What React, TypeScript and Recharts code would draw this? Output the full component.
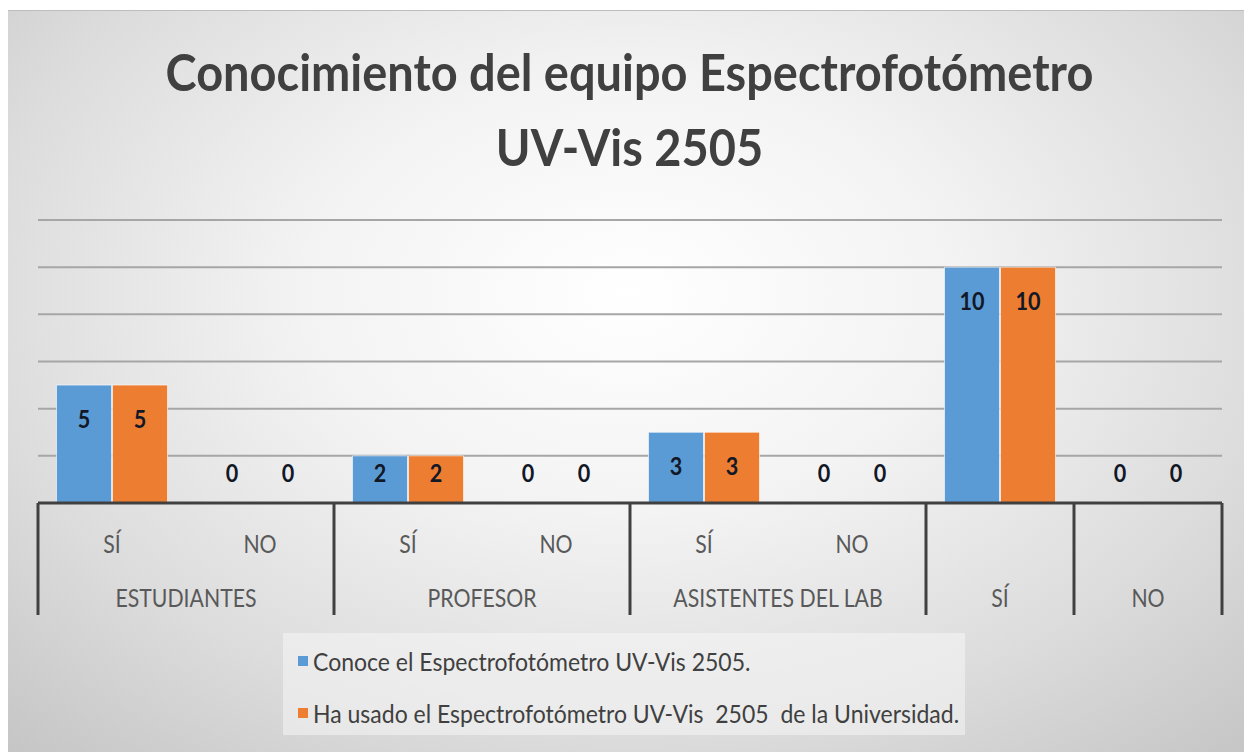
import React from "react";
import { BarChart, Bar, XAxis, YAxis, CartesianGrid, Legend, LabelList } from "recharts";

const subLabels = ["SÍ", "NO", "SÍ", "NO", "SÍ", "NO", "", ""];
const groupLabels = ["ESTUDIANTES", "ESTUDIANTES", "PROFESOR", "PROFESOR", "ASISTENTES DEL LAB", "ASISTENTES DEL LAB", "SÍ", "NO"];
const conoce = [5, 0, 2, 0, 3, 0, 10, 0];
const haUsado = [5, 0, 2, 0, 3, 0, 10, 0];
const yTicks = [0, 2, 4, 6, 8, 10, 12];
const seriesNames = [
  "Conoce el Espectrofotómetro UV-Vis 2505.",
  "Ha usado el Espectrofotómetro UV-Vis  2505  de la Universidad.",
];
const titleLines = ["Conocimiento del equipo Espectrofotómetro", "UV-Vis 2505"];

const data = subLabels.map((s, i) => ({
  key: String(i),
  sub: s,
  group: groupLabels[i],
  conoce: conoce[i],
  haUsado: haUsado[i],
}));

const W = 1245;
const H = 744;
const M = { top: 210, right: 30, left: 31, bottom: 37 };
const BAND = (W - M.left - M.right) / subLabels.length;
const FONT = "Lato, 'Open Sans', sans-serif";
const BLUE = "#5B9BD5";
const ORANGE = "#ED7D31";

function CondText(props: any) {
  const { x, y, children } = props;
  return (
    <text
      transform={`translate(${x},${y}) scale(0.85,1)`}
      textAnchor="middle"
      dominantBaseline="central"
      fill="#595959"
      fontSize={25}
      fontFamily={FONT}
    >
      {children}
    </text>
  );
}

function AxisTick(props: any) {
  const { x, y, payload } = props;
  const i = payload.index;
  const g = groupLabels[i];
  const first = i === 0 || groupLabels[i - 1] !== g;
  let span = 1;
  while (i + span < groupLabels.length && groupLabels[i + span] === g) span++;
  const left = x - BAND / 2;
  const isLast = i === groupLabels.length - 1;
  return (
    <g>
      {subLabels[i] ? <CondText x={x} y={y + 40}>{subLabels[i]}</CondText> : null}
      {first ? (
        <>
          <line x1={left} x2={left} y1={y} y2={y + 112} stroke="#404040" strokeWidth={3} />
          <CondText x={left + (span * BAND) / 2} y={y + 94}>{g}</CondText>
        </>
      ) : null}
      {isLast ? <line x1={x + BAND / 2} x2={x + BAND / 2} y1={y} y2={y + 112} stroke="#404040" strokeWidth={3} /> : null}
    </g>
  );
}

function makeLabel(series: number[]) {
  return function ValueLabel(props: any) {
    const { x, y, width, height, value, index } = props;
    const v = value ?? series[index];
    const base = y + height;
    const ly = Math.min(y + 33, base - 30);
    return (
      <text
        transform={`translate(${x + width / 2},${ly}) scale(0.9,1)`}
        textAnchor="middle"
        dominantBaseline="central"
        fill="#121826"
        fontSize={24}
        fontWeight={700}
        fontFamily={FONT}
      >
        {String(v)}
      </text>
    );
  };
}
const ConoceLabel = makeLabel(conoce);
const UsadoLabel = makeLabel(haUsado);

function LegendContent() {
  const colors = [BLUE, ORANGE];
  return (
    <div style={{ width: 682, height: 102, background: "rgba(246,246,246,0.55)", boxSizing: "border-box", paddingTop: 2 }}>
      {seriesNames.map((n, i) => (
        <div key={n} style={{ display: "flex", alignItems: "center", height: 52 }}>
          <div style={{ width: 10, height: 10, background: colors[i], marginLeft: 15, marginRight: 5, flex: "none" }} />
          <span
            style={{
              whiteSpace: "pre",
              fontFamily: FONT,
              fontSize: 25,
              color: "#404040",
              display: "inline-block",
              transform: "scaleX(0.92)",
              transformOrigin: "left center",
            }}
          >
            {n}
          </span>
        </div>
      ))}
    </div>
  );
}

export default function App() {
  return (
    <div
      style={{
        position: "relative",
        left: -1,
        top: 2,
        width: W,
        height: H,
        background: "radial-gradient(ellipse 75% 85% at 50% 38%, #ffffff 0%, #f3f3f3 35%, #dcdcdc 70%, #c4c4c4 100%)",
        borderTop: "1px solid #bdbdbd",
        boxSizing: "border-box",
      }}
    >
      <div
        style={{
          position: "absolute",
          left: 0,
          width: W,
          top: 23,
          textAlign: "center",
          fontFamily: FONT,
          fontWeight: 700,
          fontSize: 51,
          lineHeight: "75px",
          color: "#404040",
        }}
      >
        {titleLines.map((t) => (
          <div key={t} style={{ transform: "scaleX(0.92)", transformOrigin: "center" }}>{t}</div>
        ))}
      </div>
      <div style={{ position: "absolute", left: 0, top: -1 }}>
        <BarChart width={W} height={H} data={data} margin={M} barCategoryGap="12.5%" barGap={1}>
          <CartesianGrid vertical={false} stroke="#a6a6a6" strokeWidth={2} />
          <YAxis hide domain={[0, 12]} ticks={yTicks} />
          <XAxis
            dataKey="key"
            height={112}
            tickLine={false}
            tickSize={0}
            tickMargin={0}
            interval={0}
            axisLine={{ stroke: "#404040", strokeWidth: 3 }}
            tick={<AxisTick />}
          />
          <Legend
            verticalAlign="bottom"
            content={<LegendContent />}
            wrapperStyle={{ left: 276, top: 623, width: 682, height: 102 }}
          />
          <Bar dataKey="conoce" name={seriesNames[0]} fill={BLUE} stroke="#ffffff" strokeOpacity={0.6} strokeWidth={1} minPointSize={1} isAnimationActive={false}>
            <LabelList dataKey="conoce" content={<ConoceLabel />} />
          </Bar>
          <Bar dataKey="haUsado" name={seriesNames[1]} fill={ORANGE} stroke="#ffffff" strokeOpacity={0.6} strokeWidth={1} minPointSize={1} isAnimationActive={false}>
            <LabelList dataKey="haUsado" content={<UsadoLabel />} />
          </Bar>
        </BarChart>
      </div>
    </div>
  );
}
